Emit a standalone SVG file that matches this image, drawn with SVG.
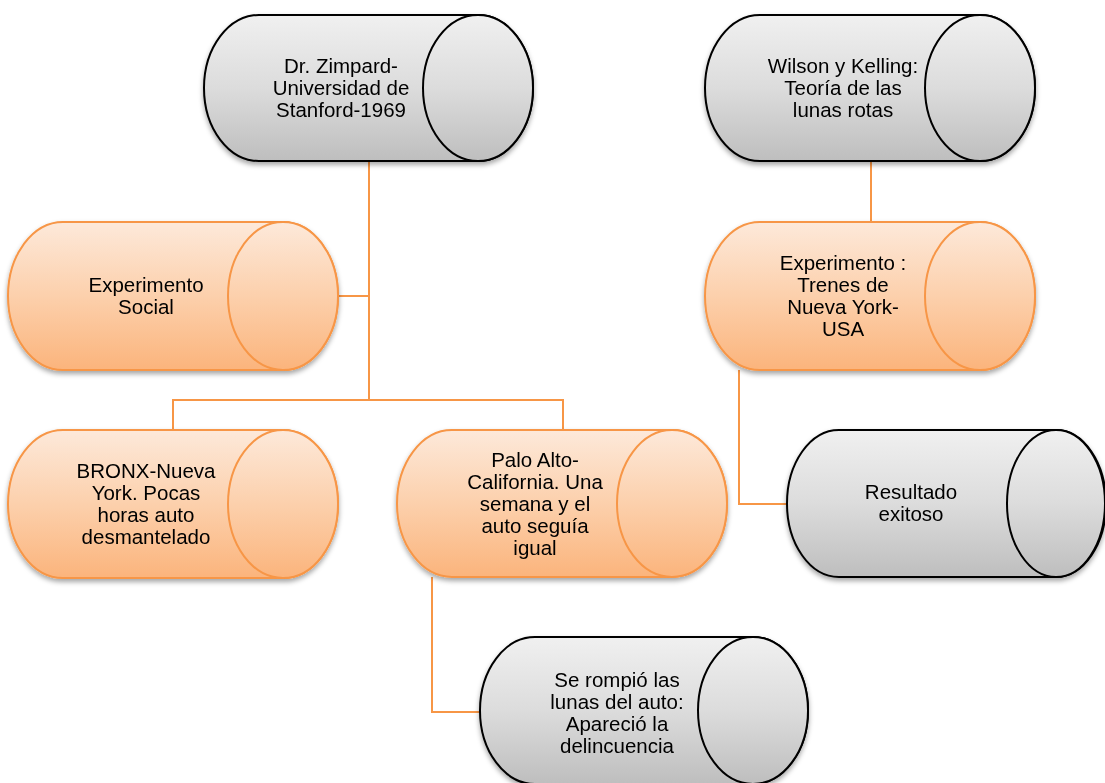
<svg xmlns="http://www.w3.org/2000/svg" width="1105" height="783" viewBox="0 0 1105 783">
<defs>
<linearGradient id="gGrey" x1="0" y1="0" x2="0" y2="1">
<stop offset="0" stop-color="#f0f0f0"/>
<stop offset="0.5" stop-color="#dcdcdc"/>
<stop offset="1" stop-color="#bebebe"/>
</linearGradient>
<linearGradient id="gOrange" x1="0" y1="0" x2="0" y2="1">
<stop offset="0" stop-color="#fde9da"/>
<stop offset="0.5" stop-color="#fcd0ac"/>
<stop offset="1" stop-color="#fbb47c"/>
</linearGradient>
<filter id="shadow" x="-10%" y="-10%" width="120%" height="130%">
<feDropShadow dx="0" dy="3" stdDeviation="2.5" flood-color="#000" flood-opacity="0.35"/>
</filter>
</defs>
<style>
.grey{fill:url(#gGrey);stroke:#000;stroke-width:2}
.orange{fill:url(#gOrange);stroke:#f79646;stroke-width:2}
.lbl{font-family:"Liberation Sans",Arial,sans-serif;font-size:20.5px;fill:#000;text-anchor:middle}
.conn{fill:none;stroke:#f79646;stroke-width:2}
</style>
<rect width="1105" height="783" fill="#fff"/>
<g id="connectors">
<polyline class="conn" points="369,161 369,400"/>
<polyline class="conn" points="338,296 369,296"/>
<polyline class="conn" points="173,430 173,400 563,400 563,430"/>
<polyline class="conn" points="871,161 871,222"/>
<polyline class="conn" points="739,370 739,504 787,504"/>
<polyline class="conn" points="432,577 432,712 480,712"/>
</g>
<g id="n1" filter="url(#shadow)">
<path class="grey" d="M259,15 L478,15 A55,73 0 0 1 478,161 L259,161 A55,73 0 0 1 259,15 Z"/>
<ellipse class="grey" cx="478" cy="88" rx="55" ry="73"/>
<text class="lbl" x="341" y="73">Dr. Zimpard-</text>
<text class="lbl" x="341" y="95">Universidad de</text>
<text class="lbl" x="341" y="117">Stanford-1969</text>
</g>
<g id="n2" filter="url(#shadow)">
<path class="grey" d="M760,15 L980,15 A55,73 0 0 1 980,161 L760,161 A55,73 0 0 1 760,15 Z"/>
<ellipse class="grey" cx="980" cy="88" rx="55" ry="73"/>
<text class="lbl" x="843" y="73">Wilson y Kelling:</text>
<text class="lbl" x="843" y="95">Teoría de las</text>
<text class="lbl" x="843" y="117">lunas rotas</text>
</g>
<g id="n3" filter="url(#shadow)">
<path class="orange" d="M63,222 L283,222 A55,74 0 0 1 283,370 L63,370 A55,74 0 0 1 63,222 Z"/>
<ellipse class="orange" cx="283" cy="296" rx="55" ry="74"/>
<text class="lbl" x="146" y="292">Experimento</text>
<text class="lbl" x="146" y="314">Social</text>
</g>
<g id="n4" filter="url(#shadow)">
<path class="orange" d="M760,222 L980,222 A55,74 0 0 1 980,370 L760,370 A55,74 0 0 1 760,222 Z"/>
<ellipse class="orange" cx="980" cy="296" rx="55" ry="74"/>
<text class="lbl" x="843" y="270">Experimento :</text>
<text class="lbl" x="843" y="292">Trenes de</text>
<text class="lbl" x="843" y="314">Nueva York-</text>
<text class="lbl" x="843" y="336">USA</text>
</g>
<g id="n5" filter="url(#shadow)">
<path class="orange" d="M63,430 L283,430 A55,74 0 0 1 283,578 L63,578 A55,74 0 0 1 63,430 Z"/>
<ellipse class="orange" cx="283" cy="504" rx="55" ry="74"/>
<text class="lbl" x="146" y="478">BRONX-Nueva</text>
<text class="lbl" x="146" y="500">York. Pocas</text>
<text class="lbl" x="146" y="522">horas auto</text>
<text class="lbl" x="146" y="544">desmantelado</text>
</g>
<g id="n6" filter="url(#shadow)">
<path class="orange" d="M452,430 L672,430 A55,73.5 0 0 1 672,577 L452,577 A55,73.5 0 0 1 452,430 Z"/>
<ellipse class="orange" cx="672" cy="503.5" rx="55" ry="73.5"/>
<text class="lbl" x="535" y="467">Palo Alto-</text>
<text class="lbl" x="535" y="489">California. Una</text>
<text class="lbl" x="535" y="511">semana y el</text>
<text class="lbl" x="535" y="533">auto seguía</text>
<text class="lbl" x="535" y="555">igual</text>
</g>
<g id="n7" filter="url(#shadow)">
<path class="grey" d="M839,430 L1056,430 A50,73.5 0 0 1 1056,577 L839,577 A52,73.5 0 0 1 839,430 Z"/>
<ellipse class="grey" cx="1056" cy="503.5" rx="49" ry="73.5"/>
<text class="lbl" x="911" y="499">Resultado</text>
<text class="lbl" x="911" y="521">exitoso</text>
</g>
<g id="n8" filter="url(#shadow)">
<path class="grey" d="M535,637 L753,637 A55,73.5 0 0 1 753,784 L535,784 A55,73.5 0 0 1 535,637 Z"/>
<ellipse class="grey" cx="753" cy="710.5" rx="55" ry="73.5"/>
<text class="lbl" x="617" y="687">Se rompió las</text>
<text class="lbl" x="617" y="709">lunas del auto:</text>
<text class="lbl" x="617" y="731">Apareció la</text>
<text class="lbl" x="617" y="753">delincuencia</text>
</g>
</svg>
